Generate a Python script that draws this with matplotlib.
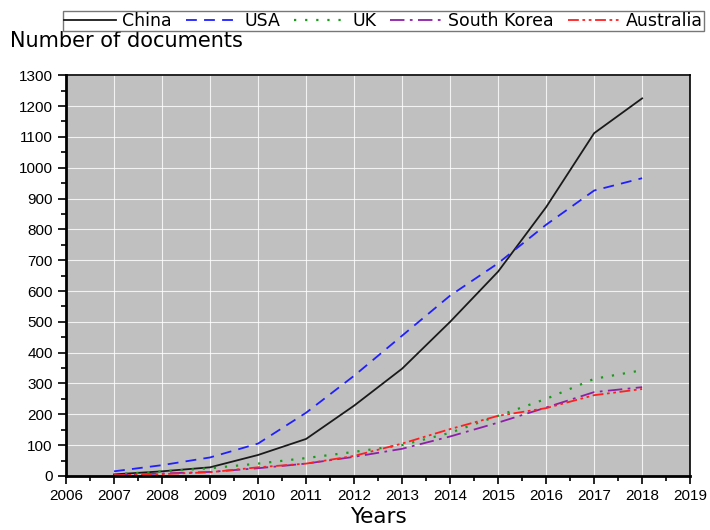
import numpy as np
import matplotlib
matplotlib.use("Agg")
import matplotlib.pyplot as plt
from matplotlib.ticker import MultipleLocator

plt.rcParams['font.family'] = ['Liberation Sans', 'DejaVu Sans']

years = [2007, 2008, 2009, 2010, 2011, 2012, 2013, 2014, 2015, 2016, 2017, 2018]
china = [5, 15, 28, 68, 120, 228, 348, 500, 663, 872, 1112, 1225]
usa = [15, 35, 60, 105, 205, 325, 455, 585, 690, 815, 926, 966]
uk = [5, 15, 25, 40, 58, 78, 100, 140, 195, 250, 315, 343]
korea = [2, 8, 13, 25, 40, 62, 88, 128, 173, 222, 272, 288]
australia = [2, 6, 12, 28, 40, 65, 105, 152, 195, 220, 262, 282]

fig = plt.figure(figsize=(7.1, 5.3), dpi=100)
ax = fig.add_axes([0.093, 0.102, 0.879, 0.756])
ax.set_facecolor('#c0c0c0')

ax.plot(years, china, color='#1a1a1a', lw=1.3, ls='-', label='China')
ax.plot(years, usa, color='#1f1fff', lw=1.3, ls=(0, (6, 4)), label='USA')
ax.plot(years, uk, color='#1a9a1a', lw=1.6, ls=(0, (1, 4)), label='UK')
ax.plot(years, korea, color='#8e1fa8', lw=1.3, ls=(0, (8, 3, 1.5, 3)), label='South Korea')
ax.plot(years, australia, color='#ff1f1f', lw=1.3, ls=(0, (6, 2, 1.5, 2, 1.5, 2)), label='Australia')

ax.set_xlim(2006, 2019)
ax.set_ylim(0, 1300)
ax.xaxis.set_major_locator(MultipleLocator(1))
ax.xaxis.set_minor_locator(MultipleLocator(0.5))
ax.yaxis.set_major_locator(MultipleLocator(100))
ax.yaxis.set_minor_locator(MultipleLocator(50))
ax.grid(True, which='major', color='white', lw=0.8, alpha=0.8)
ax.set_axisbelow(True)
ax.tick_params(which='major', direction='out', length=6, width=1.2, labelsize=11)
ax.tick_params(which='minor', direction='out', length=3.5, width=1.2)
for s in ax.spines.values():
    s.set_linewidth(1.2)
ax.spines['left'].set_linewidth(2)
ax.spines['bottom'].set_linewidth(2)

# axis titles in a wider face
ax.set_xlabel('Years', fontsize=15.5, labelpad=3, family='DejaVu Sans')
fig.text(0.014, 0.912, 'Number of documents', fontsize=15, ha='left', va='baseline',
         family='DejaVu Sans')

leg = fig.legend(loc='upper right', bbox_to_anchor=(0.991, 0.979), ncol=5,
                 prop={'family': 'DejaVu Sans', 'size': 12.5},
                 frameon=True, fancybox=False, edgecolor='#555555', handlelength=3.0,
                 handletextpad=0.35, columnspacing=0.8, borderpad=0.05, borderaxespad=0)
leg.get_frame().set_linewidth(1)

fig.savefig('out.png', dpi=100)
